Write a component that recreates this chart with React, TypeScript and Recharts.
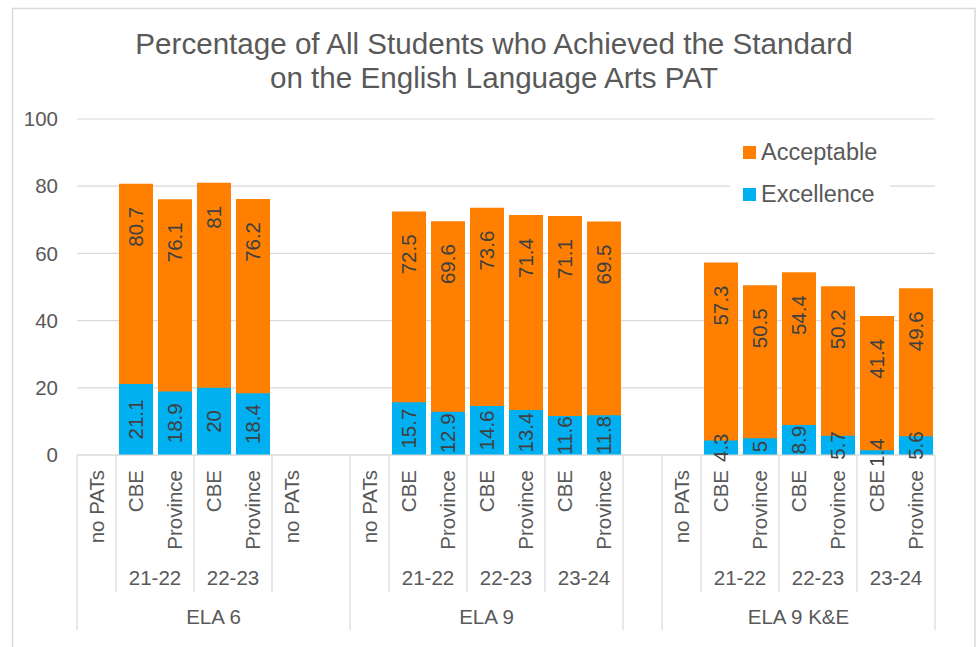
import React from "react";
import { BarChart, Bar, XAxis, YAxis, CartesianGrid, Legend, LabelList } from "recharts";

// ---------- data ----------
const categories = [
  "no PATs", "CBE", "Province", "CBE", "Province", "no PATs", "",
  "no PATs", "CBE", "Province", "CBE", "Province", "CBE", "Province",
  "",
  "no PATs", "CBE", "Province", "CBE", "Province", "CBE", "Province",
];
const acceptable: (number | null)[] = [
  null, 80.7, 76.1, 81, 76.2, null, null,
  null, 72.5, 69.6, 73.6, 71.4, 71.1, 69.5,
  null,
  null, 57.3, 50.5, 54.4, 50.2, 41.4, 49.6,
];
const excellence: (number | null)[] = [
  null, 21.1, 18.9, 20, 18.4, null, null,
  null, 15.7, 12.9, 14.6, 13.4, 11.6, 11.8,
  null,
  null, 4.3, 5, 8.9, 5.7, 1.4, 5.6,
];
const yearGroups = [
  { label: "", start: 0, count: 1 },
  { label: "21-22", start: 1, count: 2 },
  { label: "22-23", start: 3, count: 2 },
  { label: "", start: 5, count: 2 },
  { label: "", start: 7, count: 1 },
  { label: "21-22", start: 8, count: 2 },
  { label: "22-23", start: 10, count: 2 },
  { label: "23-24", start: 12, count: 2 },
  { label: "", start: 14, count: 1 },
  { label: "", start: 15, count: 1 },
  { label: "21-22", start: 16, count: 2 },
  { label: "22-23", start: 18, count: 2 },
  { label: "23-24", start: 20, count: 2 },
];
const subjectGroups = [
  { label: "ELA 6", start: 0, count: 7 },
  { label: "ELA 9", start: 7, count: 7 },
  { label: "", start: 14, count: 1 },
  { label: "ELA 9 K&E", start: 15, count: 7 },
];
const yTicks = [0, 20, 40, 60, 80, 100];
const titleLines = [
  "Percentage of All Students who Achieved the Standard",
  "on the English Language Arts PAT",
];
const seriesNames = { acceptable: "Acceptable", excellence: "Excellence" };

const data = categories.map((c, i) => ({
  id: String(i),
  label: c,
  acceptable: acceptable[i],
  excellence: excellence[i],
}));

// ---------- layout / style ----------
const W = 979;
const H = 647;
const PLOT_LEFT = 77;
const PLOT_RIGHT = 935;
const PLOT_TOP = 119;
const PLOT_BOTTOM = 455;
const FONT = "'Liberation Sans', Arial, sans-serif";
const GRID = "#D9D9D9";
const TEXT = "#595959";
const LABEL = "#404040";
const ORANGE = "#FF8000";
const BLUE = "#00B0F0";
const BW = (PLOT_RIGHT - PLOT_LEFT) / categories.length;

const YTick = (props: any) => {
  const { x, y, payload } = props;
  return (
    <text x={x} y={y} dy="0.35em" textAnchor="end" fill={TEXT} fontSize={20.5} fontFamily={FONT}>
      {payload.value}
    </text>
  );
};

const XTick = (props: any) => {
  const { x, payload } = props;
  const i = Number(payload.value);
  const els: React.ReactNode[] = [];
  const lab = categories[i];
  const ty = PLOT_BOTTOM + 15;
  if (lab) {
    els.push(
      <text key="l1" x={x} y={ty} dy="0.35em" transform={`rotate(-90 ${x} ${ty})`} textAnchor="end"
        fill={TEXT} fontSize={20.5} fontFamily={FONT}>{lab}</text>
    );
  }
  const left = x - BW / 2;
  const sg = subjectGroups.find((g) => g.start === i);
  const yg = yearGroups.find((g) => g.start === i);
  if (sg) {
    els.push(<line key="s" x1={left} x2={left} y1={PLOT_BOTTOM} y2={PLOT_BOTTOM + 175} stroke={GRID} strokeWidth={1.2} />);
    if (sg.label) {
      const cx = left + (sg.count * BW) / 2;
      els.push(
        <text key="l3" x={cx} y={PLOT_BOTTOM + 162} dy="0.35em" textAnchor="middle" fill={TEXT} fontSize={20.5} fontFamily={FONT}>{sg.label}</text>
      );
    }
  } else if (yg) {
    els.push(<line key="y" x1={left} x2={left} y1={PLOT_BOTTOM} y2={PLOT_BOTTOM + 137} stroke={GRID} strokeWidth={1.2} />);
  }
  if (yg && yg.label) {
    const cx = left + (yg.count * BW) / 2;
    els.push(
      <text key="l2" x={cx} y={PLOT_BOTTOM + 123} dy="0.35em" textAnchor="middle" fill={TEXT} fontSize={20.5} fontFamily={FONT}>{yg.label}</text>
    );
  }
  if (i === categories.length - 1) {
    const right = x + BW / 2;
    els.push(<line key="r" x1={right} x2={right} y1={PLOT_BOTTOM} y2={PLOT_BOTTOM + 175} stroke={GRID} strokeWidth={1.2} />);
  }
  return <g>{els}</g>;
};

const AccLabel = (props: any) => {
  const { x, y, width, value } = props;
  if (value == null) return null;
  const cx = x + width / 2;
  const ty = y + 23;
  return (
    <text x={cx} y={ty} dy="0.35em" transform={`rotate(-90 ${cx} ${ty})`} textAnchor="end"
      fill={LABEL} fontSize={20.5} fontFamily={FONT}>{value}</text>
  );
};

const ExcLabel = (props: any) => {
  const { x, y, width, height, value } = props;
  if (value == null) return null;
  const cx = x + width / 2;
  const ty = y + height / 2;
  return (
    <text x={cx} y={ty} dy="0.35em" transform={`rotate(-90 ${cx} ${ty})`} textAnchor="middle"
      fill={LABEL} fontSize={20.5} fontFamily={FONT}>{value}</text>
  );
};

const LegendContent = (props: any) => {
  const payload = props.payload || [];
  return (
    <div style={{ position: "relative", width: 160, height: 80, background: "#fff", fontFamily: FONT }}>
      {payload.map((p: any, k: number) => (
        <div key={k} style={{ position: "absolute", left: 0, top: 9 + k * 42, height: 26, lineHeight: "26px", whiteSpace: "nowrap" }}>
          <span style={{ position: "absolute", left: 13, top: 6.5, width: 13, height: 13, background: p.color }} />
          <span style={{ position: "absolute", left: 31, top: 0, fontSize: 23.5, color: TEXT }}>{p.value}</span>
        </div>
      ))}
    </div>
  );
};

export default function App() {
  return (
    <div style={{ position: "absolute", left: 0, top: 0, width: W, height: H, background: "#fff", overflow: "hidden" }}>
      <svg width={W} height={H} style={{ position: "absolute", left: 0, top: 0 }}>
        <rect x={12.5} y={8.5} width={962.5} height={700} fill="#fff" stroke={GRID} strokeWidth={1.5} />
        {titleLines.map((t, k) => (
          <text key={k} x={494} y={54 + k * 34} textAnchor="middle" fill={TEXT} fontSize={29.6} fontFamily={FONT}>{t}</text>
        ))}
      </svg>
      <div style={{ position: "absolute", left: 0, top: 0 }}>
        <BarChart
          width={W}
          height={H}
          data={data}
          margin={{ top: PLOT_TOP, right: W - PLOT_RIGHT, bottom: 0, left: 0 }}
        >
          <CartesianGrid xAxisId="a" vertical={false} stroke={GRID} strokeWidth={1.2} />
          <XAxis
            xAxisId="a"
            dataKey="id"
            interval={0}
            tick={<XTick />}
            tickLine={false}
            axisLine={{ stroke: GRID, strokeWidth: 1.2 }}
            height={H - PLOT_BOTTOM}
          />
          <XAxis xAxisId="b" dataKey="id" hide />
          <YAxis
            width={PLOT_LEFT}
            domain={[0, 100]}
            ticks={yTicks}
            tick={<YTick />}
            tickLine={false}
            tickSize={0}
            tickMargin={19}
            axisLine={false}
          />
          <Legend
            layout="vertical"
            align="center"
            verticalAlign="middle"
            content={<LegendContent />}
            wrapperStyle={{ left: 730, top: 130, width: 160, height: 80 }}
          />
          <Bar xAxisId="a" dataKey="acceptable" name={seriesNames.acceptable} fill={ORANGE} barSize={34} isAnimationActive={false}>
            <LabelList dataKey="acceptable" content={<AccLabel />} />
          </Bar>
          <Bar xAxisId="b" dataKey="excellence" name={seriesNames.excellence} fill={BLUE} barSize={34} isAnimationActive={false}>
            <LabelList dataKey="excellence" content={<ExcLabel />} />
          </Bar>
        </BarChart>
      </div>
    </div>
  );
}
